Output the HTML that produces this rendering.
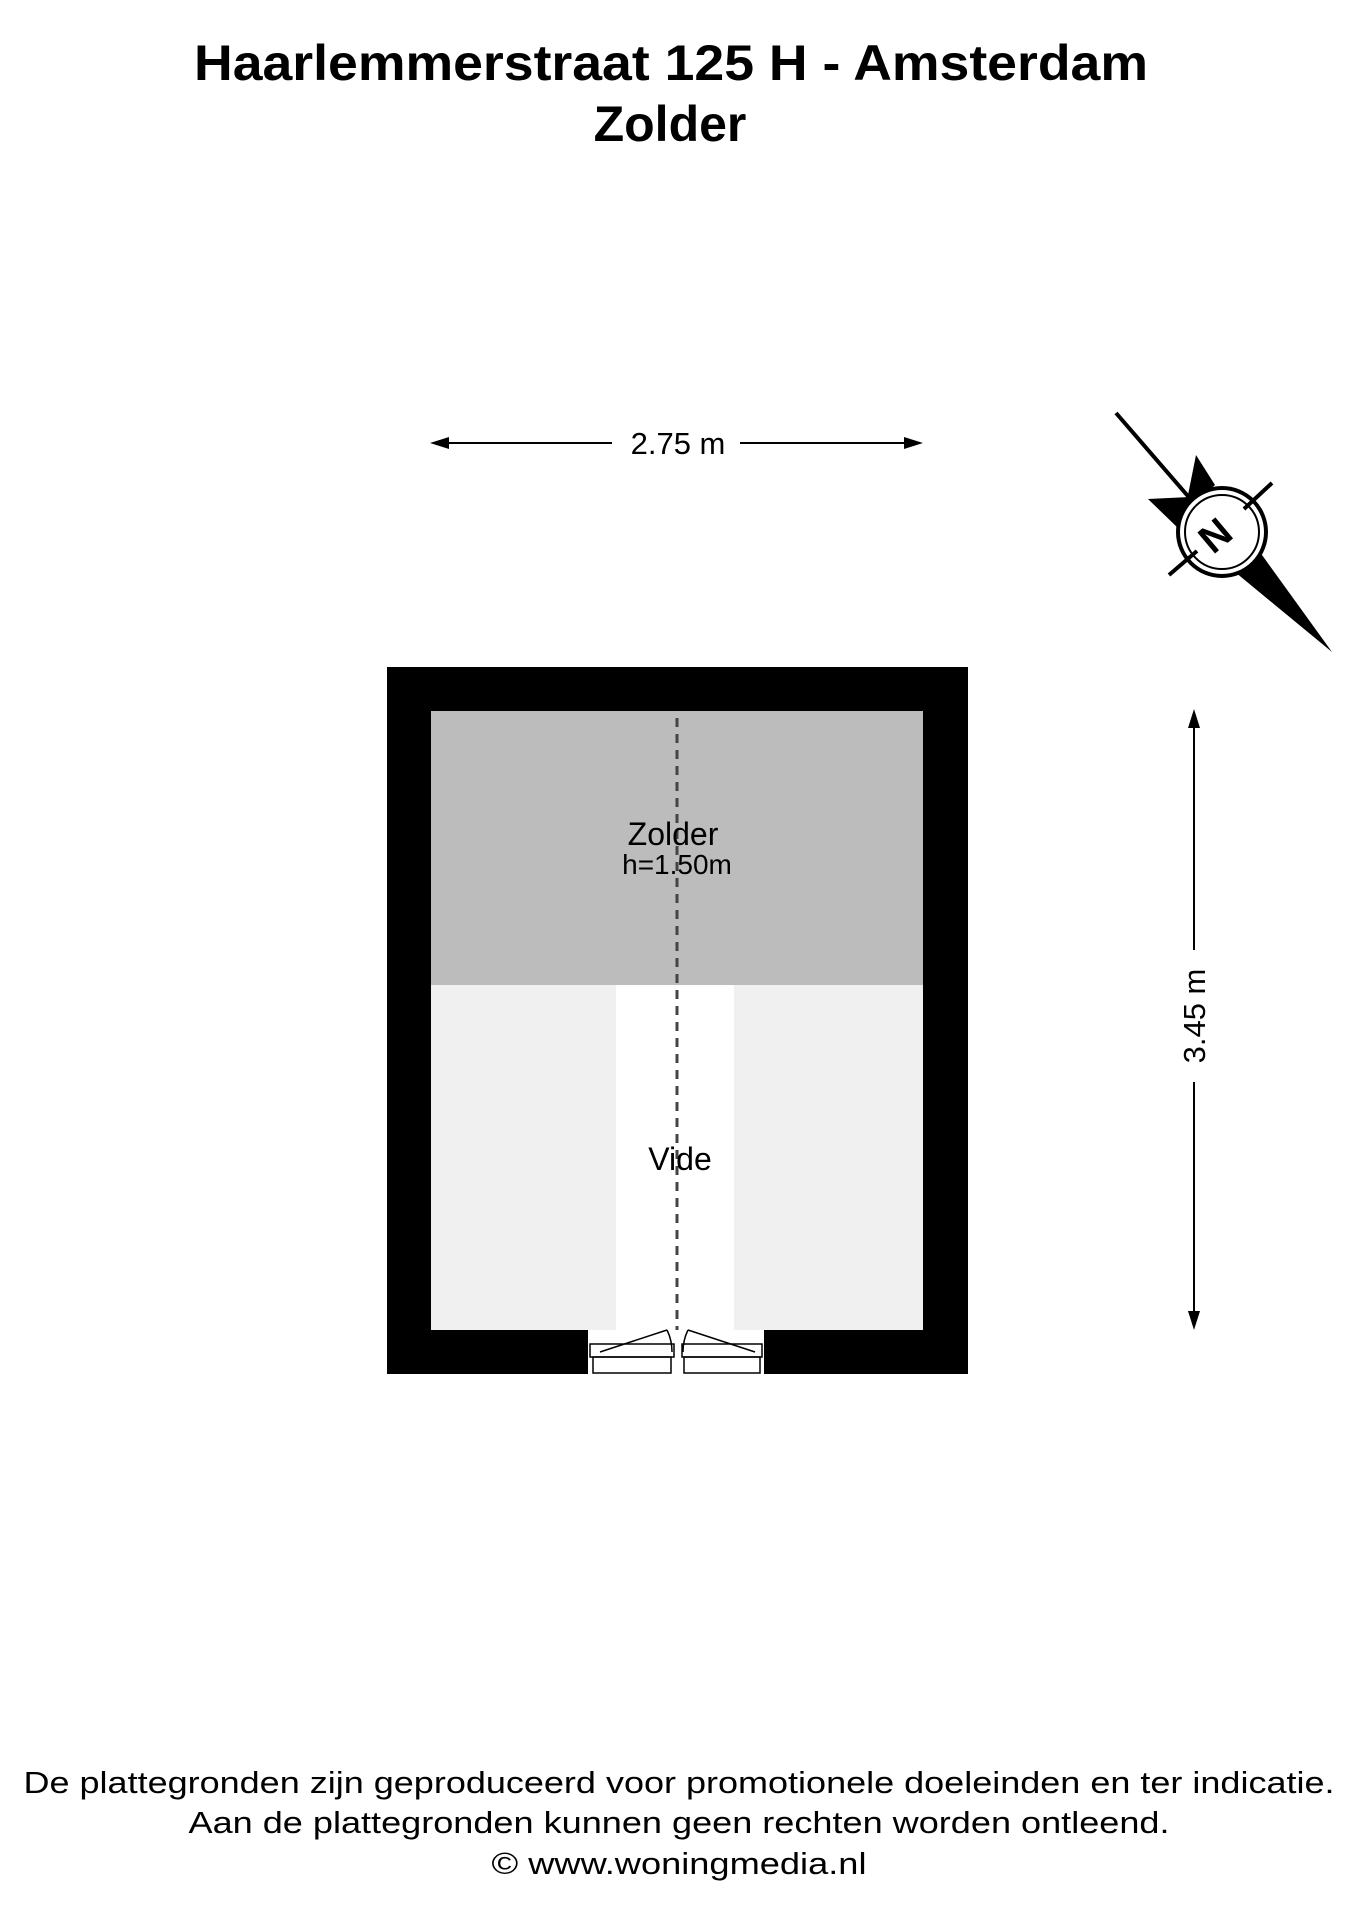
<!DOCTYPE html>
<html><head><meta charset="utf-8"><style>html,body{margin:0;padding:0;background:#fff}svg{display:block}</style></head>
<body>
<svg width="1358" height="1920" viewBox="0 0 1358 1920" xmlns="http://www.w3.org/2000/svg" font-family="Liberation Sans, Arial, sans-serif">
<text x="671" y="80" font-size="50" font-weight="bold" text-anchor="middle" textLength="954" lengthAdjust="spacingAndGlyphs">Haarlemmerstraat 125 H - Amsterdam</text>
<text x="670" y="141" font-size="50" font-weight="bold" text-anchor="middle">Zolder</text>

<line x1="440" y1="443" x2="612" y2="443" stroke="#000" stroke-width="2"/>
<line x1="740" y1="443" x2="913" y2="443" stroke="#000" stroke-width="2"/>
<polygon points="430,443 449,437 449,449" fill="#000"/>
<polygon points="923,443 904,437 904,449" fill="#000"/>
<text x="678" y="454" font-size="31" text-anchor="middle">2.75 m</text>

<line x1="1194" y1="718" x2="1194" y2="950" stroke="#000" stroke-width="2"/>
<line x1="1194" y1="1082" x2="1194" y2="1320" stroke="#000" stroke-width="2"/>
<polygon points="1194,709 1188,728 1200,728" fill="#000"/>
<polygon points="1194,1330 1188,1311 1200,1311" fill="#000"/>
<text transform="translate(1205,1016) rotate(-90)" font-size="31" text-anchor="middle">3.45 m</text>

<line x1="1116" y1="413" x2="1200" y2="510" stroke="#000" stroke-width="4"/>
<polygon points="1196,455 1215,485 1185,510" fill="#000"/>
<polygon points="1148,499 1190,497 1180,530" fill="#000"/>
<polygon points="1332,652 1240,565 1262,555" fill="#000"/>
<polygon points="1332,652 1235,572 1250,560" fill="#000"/>
<circle cx="1222" cy="532" r="44" fill="#fff" stroke="#000" stroke-width="4"/>
<circle cx="1222" cy="532" r="37" fill="none" stroke="#000" stroke-width="2"/>
<line x1="1169" y1="575" x2="1197" y2="551" stroke="#000" stroke-width="4"/>
<line x1="1244" y1="509" x2="1272" y2="483" stroke="#000" stroke-width="4"/>
<text transform="translate(1224,546) rotate(-40)" font-size="40" font-weight="bold" text-anchor="middle">N</text>

<rect x="387" y="667" width="581" height="707" fill="#000"/>
<rect x="431" y="711" width="492" height="274" fill="#bcbcbc"/>
<rect x="431" y="985" width="492" height="345" fill="#f0f0f0"/>
<rect x="616" y="985" width="118" height="345" fill="#fff"/>
<rect x="588" y="1330" width="176" height="44" fill="#fff"/>
<line x1="677" y1="718" x2="677" y2="1330" stroke="#444" stroke-width="3" stroke-dasharray="9,7"/>
<g fill="none" stroke="#000" stroke-width="1.5">
<rect x="590" y="1344" width="84" height="13"/>
<rect x="682" y="1344" width="80" height="13"/>
<rect x="593" y="1357" width="78" height="16"/>
<rect x="684" y="1357" width="76" height="16"/>
<line x1="600" y1="1352" x2="667" y2="1330"/>
<path d="M667 1330 Q672 1340 672 1352"/>
<line x1="755" y1="1352" x2="688" y2="1330"/>
<path d="M688 1330 Q683 1340 683 1352"/>
</g>
<text x="673" y="845" font-size="32" text-anchor="middle">Zolder</text>
<text x="677" y="874" font-size="28" text-anchor="middle">h=1.50m</text>
<text x="680" y="1170" font-size="32" text-anchor="middle">Vide</text>

<text x="679" y="1793" font-size="31" text-anchor="middle" textLength="1311" lengthAdjust="spacingAndGlyphs">De plattegronden zijn geproduceerd voor promotionele doeleinden en ter indicatie.</text>
<text x="679" y="1833" font-size="31" text-anchor="middle" textLength="981" lengthAdjust="spacingAndGlyphs">Aan de plattegronden kunnen geen rechten worden ontleend.</text>
<text x="679" y="1874" font-size="31" text-anchor="middle" textLength="375" lengthAdjust="spacingAndGlyphs">© www.woningmedia.nl</text>
</svg>
</body></html>
